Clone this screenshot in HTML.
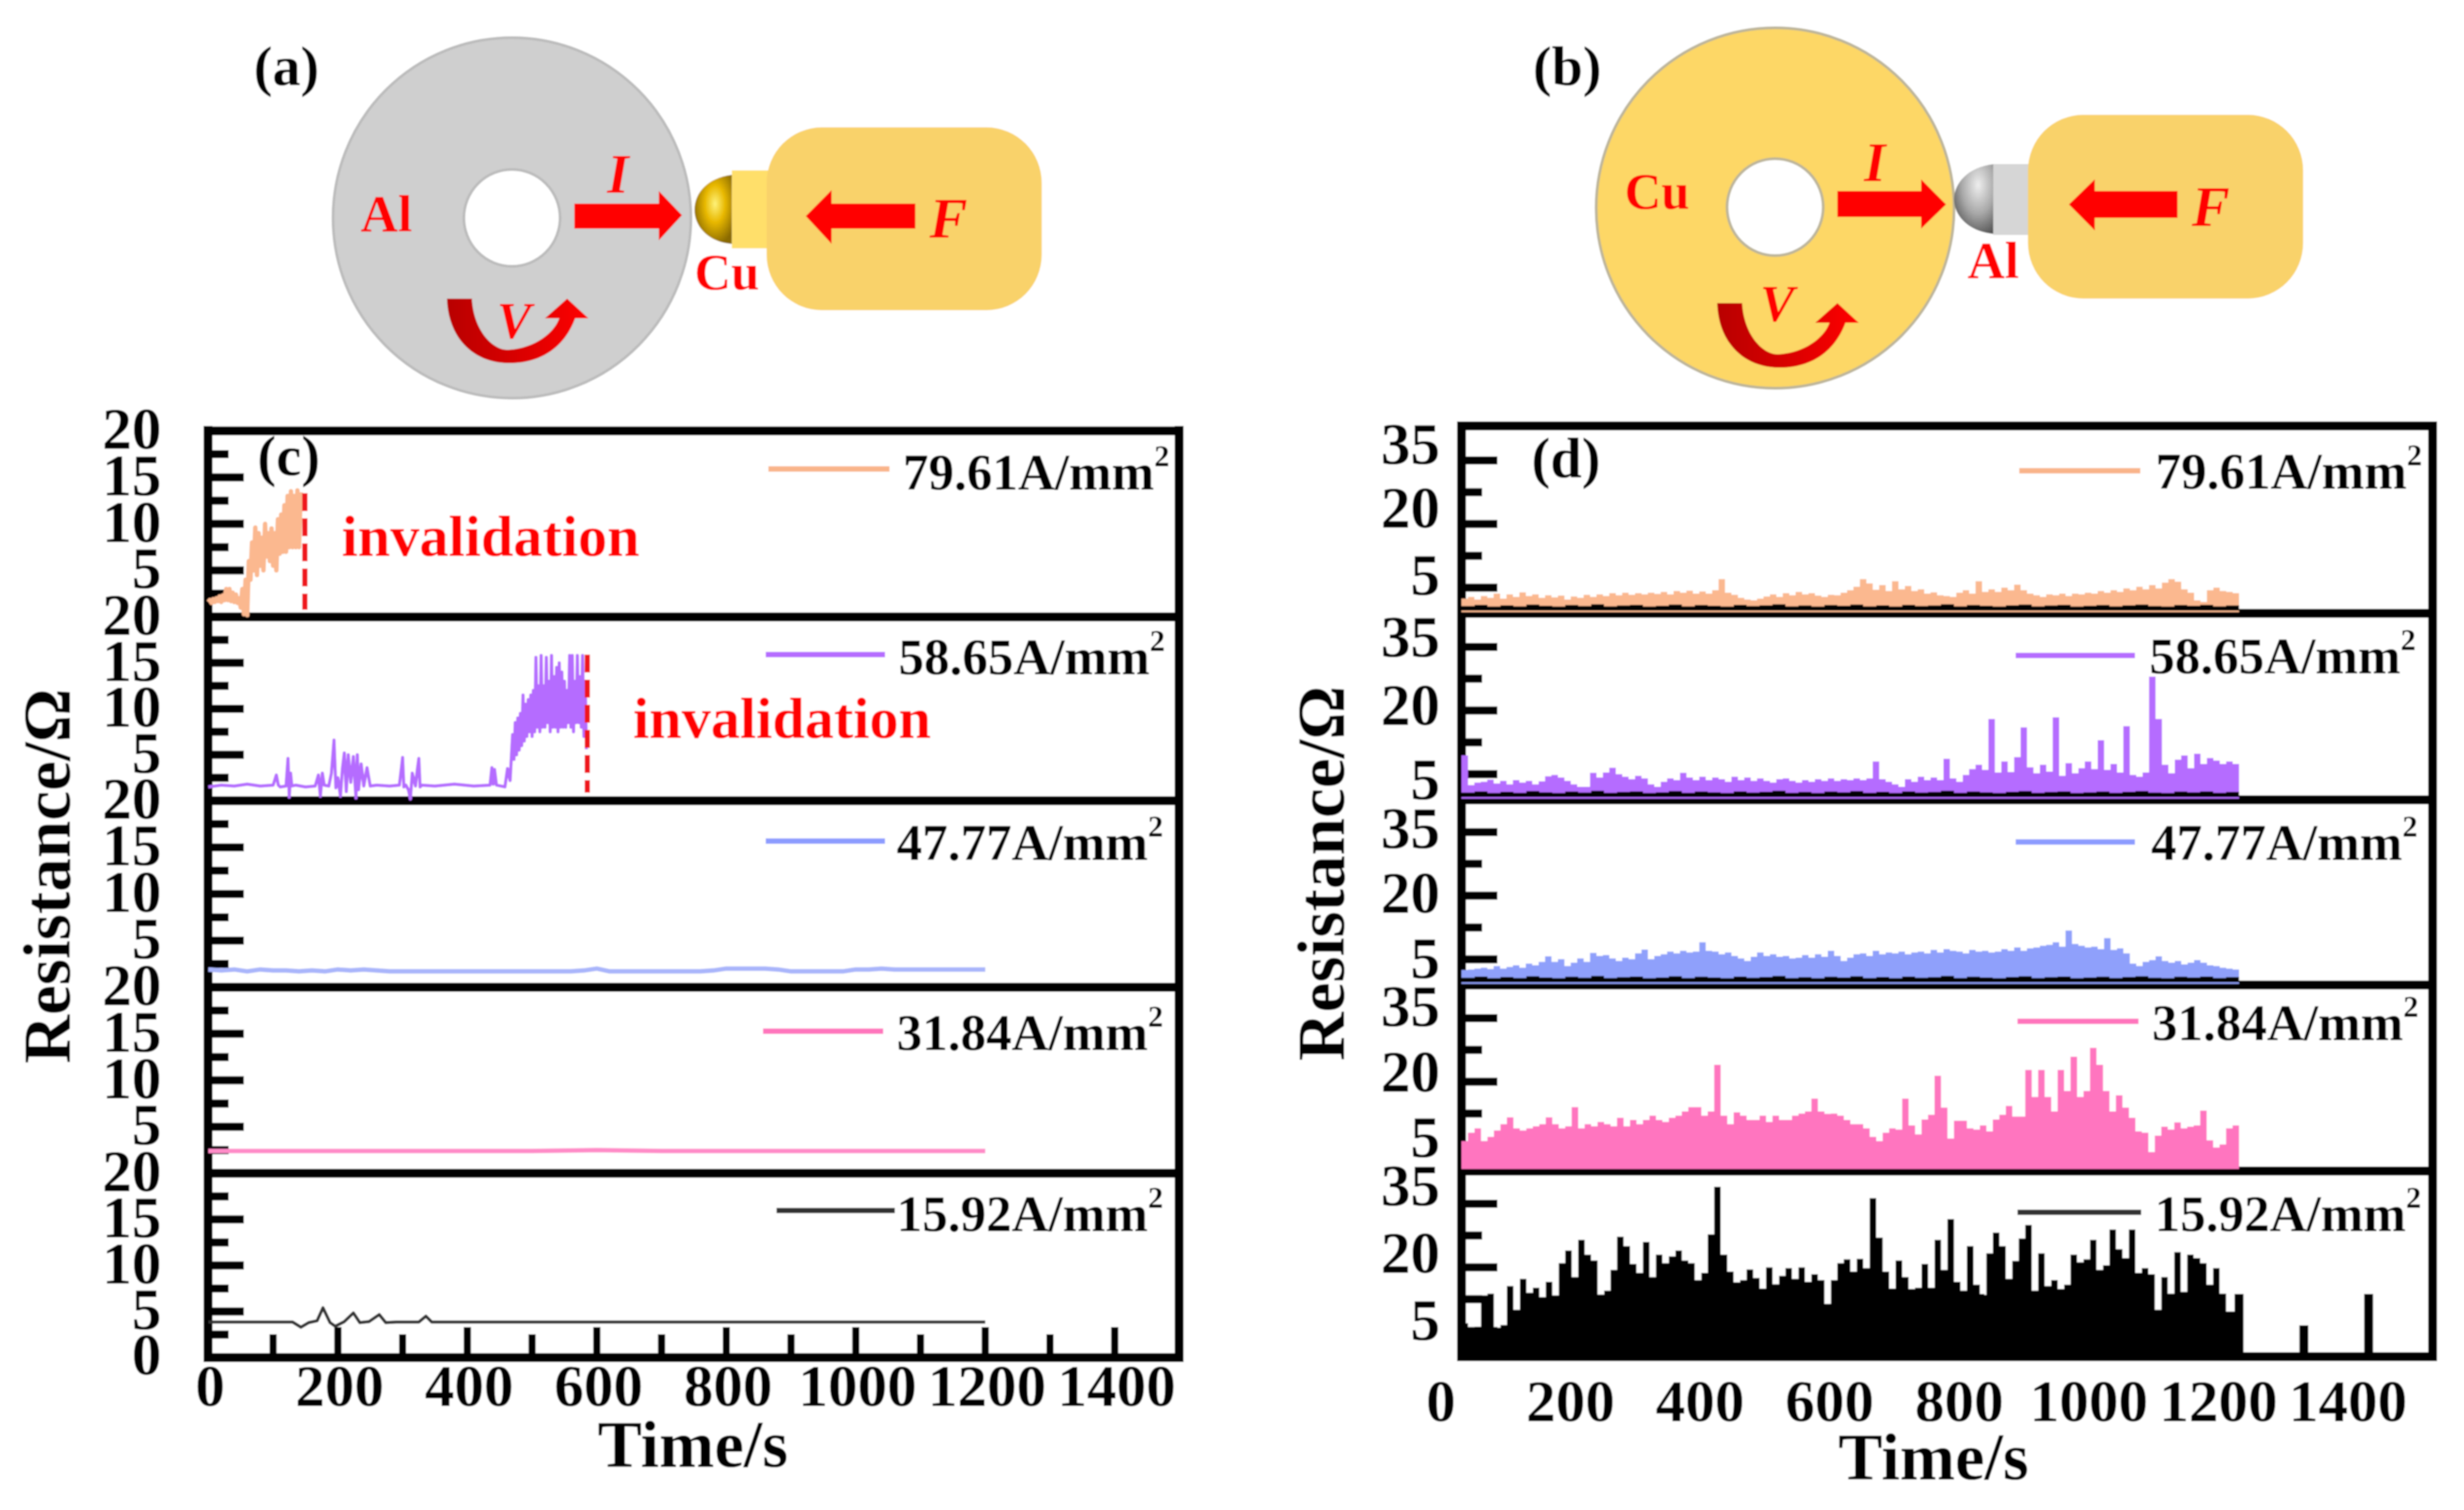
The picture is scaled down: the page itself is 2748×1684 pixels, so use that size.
<!DOCTYPE html>
<html lang="en">
<head>
<meta charset="utf-8">
<title>Resistance versus time for Al/Cu and Cu/Al pairs</title>
<style>
html,body{margin:0;padding:0;background:#fff}
svg{display:block}
text{font-family:"Liberation Serif","DejaVu Serif",serif;font-weight:bold}
</style>
</head>
<body>
<svg id="fig" xmlns="http://www.w3.org/2000/svg" width="2748" height="1684" viewBox="0 0 2748 1684">
<defs>
<filter id="soft" x="0" y="0" width="100%" height="100%"><feGaussianBlur stdDeviation="0.9"/></filter>
<radialGradient id="gold" cx="0.55" cy="0.42" r="0.6"><stop offset="0" stop-color="#fff27a"/><stop offset="0.45" stop-color="#e8b800"/><stop offset="1" stop-color="#8a6a00"/></radialGradient>
<radialGradient id="silver" cx="0.6" cy="0.3" r="0.75"><stop offset="0" stop-color="#eeeeee"/><stop offset="0.55" stop-color="#a8a8a8"/><stop offset="1" stop-color="#555555"/></radialGradient>
<linearGradient id="curl" x1="0" y1="0" x2="1" y2="0"><stop offset="0" stop-color="#b80000"/><stop offset="0.6" stop-color="#e00000"/><stop offset="1" stop-color="#ff0000"/></linearGradient>
</defs>
<g id="root" filter="url(#soft)">
<rect width="2748" height="1684" fill="#ffffff"/>

<g transform="scale(0.993,1)">
<circle cx="575" cy="243" r="201" fill="#cfcfcf" stroke="#bcbcbc" stroke-width="3"/>
<circle cx="575" cy="243" r="54" fill="#ffffff" stroke="#bcbcbc" stroke-width="3"/>
<path d="M822,195 C795,198 780,215 780,234 C780,252 795,270 822,272 Z" fill="url(#gold)"/>
<rect x="822" y="190" width="42" height="87" fill="#ffdf6b"/>
<rect x="861" y="142" width="309" height="204" rx="62" ry="62" fill="#f9d26a"/>
<path d="M645,227 H740 V213 L766,240 L740,268 V255 H645 Z" fill="#ff0000"/>
<path d="M1028,227 H934 V212 L905,241 L934,272 V255 H1028 Z" fill="#ff0000"/>
<path d="M502,333 L530,333 C532,370 555,392 572,390 C600,388 622,372 628,355 L612,355 L637,333 L661,355 L646,355 C635,385 610,405 572,405 C530,405 503,375 502,333 Z" fill="url(#curl)"/>
<text x="285" y="95" font-size="63">(a)</text>
<text x="405" y="258" font-size="58" fill="#ff0000">Al</text>
<text x="780" y="323" font-size="57" fill="#ff0000">Cu</text>
<text x="682" y="215" font-size="62" font-style="italic" fill="#ff0000">I</text>
<text x="1044" y="265" font-size="64" font-style="italic" fill="#ff0000">F</text>
<text x="558" y="377" font-size="58" font-style="italic" fill="#ff0000">V</text>
</g>

<g transform="translate(9.6,0) scale(0.993,1)">
<circle cx="1984" cy="232" r="201" fill="#fdd766" stroke="#bdb59a" stroke-width="3"/>
<circle cx="1984" cy="231" r="54" fill="#ffffff" stroke="#bdb59a" stroke-width="3"/>
<path d="M2230,183 C2200,186 2185,205 2185,222 C2185,240 2200,258 2230,261 Z" fill="url(#silver)"/>
<rect x="2229" y="183" width="42" height="79" fill="#d6d6d6"/>
<rect x="2268" y="128" width="309" height="205" rx="62" ry="62" fill="#f9d26a"/>
<path d="M2054,213 H2148 V200 L2176,228 L2148,255 V242 H2054 Z" fill="#ff0000"/>
<path d="M2436,213 H2343 V200 L2314,228 L2343,257 V243 H2436 Z" fill="#ff0000"/>
<path transform="translate(1417,5)" d="M502,333 L530,333 C532,370 555,392 572,390 C600,388 622,372 628,355 L612,355 L637,333 L661,355 L646,355 C635,385 610,405 572,405 C530,405 503,375 502,333 Z" fill="url(#curl)"/>
<text x="1712" y="95" font-size="63">(b)</text>
<text x="1815" y="233" font-size="57" fill="#ff0000">Cu</text>
<text x="2200" y="310" font-size="58" fill="#ff0000">Al</text>
<text x="2084" y="202" font-size="62" font-style="italic" fill="#ff0000">I</text>
<text x="2452" y="252" font-size="64" font-style="italic" fill="#ff0000">F</text>
<text x="1967" y="358" font-size="58" font-style="italic" fill="#ff0000">V</text>
</g>

<g id="chartC"></g>
<g id="chartD"></g>
</g>
</svg>
<script>
// ---- shared labels ----
const currentLabels = ["79.61A/mm","58.65A/mm","47.77A/mm","31.84A/mm","15.92A/mm"];
const timeTicks = [100,200,300,400,500,600,700,800,900,1000,1100,1200,1300,1400];
const timeTickLabels = [0,200,400,600,800,1000,1200,1400];
const seriesColors = ["#fbb88f","#b56cff","#8fa0fb","#ff75bf","#000000"];
const legendColors = ["#f9b48a","#b56cff","#8c9cff","#ff75bd","#333333"];

// ---- chart (c) data ----
const cTicksMajor = [5,10,15];
const cTicksMinor = [2.5,7.5,12.5,17.5];
const cTickLabels = [5,10,15,20];
const c80Times = [0,2.5,5,7.5,10,12.5,15,17.5,20,22.5,25,27.5,30,32.5,35,37.5,40,42.5,45,47.5,50,52.5,55,57.5,60,62.5,65,67.5,70,72.5,75,77.5,80,82.5,85,87.5,90,92.5,95,97.5,100,102.5,105,107.5,110,112.5,115,117.5,120,122.5,125,127.5,130,132.5,135,137.5,140,142.5];
const c80Values = [1.6,1.8,1.5,1.9,1.6,2.0,1.7,2.2,1.6,2.3,1.8,3.0,1.8,3.0,1.7,2.6,1.6,2.4,1.5,2.0,1.0,3.0,0.3,4.0,0.2,6.0,4.0,8.0,5.0,9.6,4.5,9.0,5.5,8.5,5.0,10.0,6.5,9.0,6.0,9.5,5.5,9.0,5.0,10.5,6.8,11.0,7.0,12.0,7.0,13.0,7.5,13.5,7.5,13.0,7.5,13.6,7.5,13.4];
const c58Times = [0,20,40,60,80,100,105,108,111,120,123,125,127,129,135,150,165,170,173,176,179,186,190,194,197,200,204,207,210,213,216,220,224,228,230,232,236,240,245,250,260,280,295,298,300,302,305,309,312,315,320,323,325,327,330,350,380,410,435,438,440,442,445,458,462,466,470,472,474,476,478,480,482,484,486,488,490,492,494,496,498,500,502,504,506,508,510,512,514,516,518,520,522,524,526,528,530,532,534,536,538,540,542,544,546,548,550,552,554,556,558,560,562,564,566,568,570,572,574,576,578,580,582,584];
const c58Values = [1.5,1.7,1.6,1.8,1.6,1.7,2.8,1.7,1.5,1.6,4.6,0.4,3.0,1.6,1.7,1.5,1.6,2.8,0.5,3.0,1.7,1.6,3.0,6.6,1.4,2.5,0.5,3.5,5.2,1.0,5.0,2.0,4.8,0.3,5.0,1.2,4.0,1.6,3.6,1.6,1.7,1.6,1.7,3.5,4.7,1.5,1.7,1.2,0.2,3.0,1.6,3.5,4.6,1.5,1.7,1.6,1.8,1.6,1.7,3.6,1.8,3.4,1.7,1.5,3.5,2.2,7.2,4.5,8.5,5.0,9.0,5.5,9.5,6.0,11.5,6.5,10.5,7.0,11.0,7.5,11.5,7.0,12.0,7.5,15.6,8.0,12.5,7.5,15.8,8.0,12.5,8.0,15.6,8.5,13.0,7.5,15.8,8.0,13.5,8.0,14.5,7.5,15.0,8.0,14.0,8.0,13.0,8.0,12.0,8.5,15.8,8.0,15.8,7.5,13.0,8.5,15.8,8.5,13.5,8.0,15.8,7.0,13.0,5.6];
const c47Values = [1.9,1.8,1.9,1.7,1.9,1.8,1.8,1.7,1.8,1.7,1.9,1.8,1.9,1.8,1.7,1.7,1.7,1.7,1.7,1.7,1.7,1.7,1.7,1.7,1.7,1.7,1.7,1.7,1.7,1.8,2.0,1.7,1.7,1.7,1.7,1.7,1.7,1.7,1.7,1.8,2.0,2.0,2.0,2.0,1.9,1.7,1.7,1.7,1.7,1.7,1.9,1.9,2.0,1.9,1.9,1.9,1.9,1.9,1.9,1.9,1.9];
const c31Values = [2.4,2.4,2.4,2.4,2.4,2.4,2.5,2.4,2.4,2.4,2.4,2.4,2.4];
const c15Times = [0,130,143,155,168,177,188,196,210,224,234,248,264,274,290,325,336,345,360,1200];
const c15Values = [3.85,3.85,3.3,3.8,4.0,5.4,3.8,3.4,3.9,4.85,3.8,3.9,4.66,3.8,3.85,3.85,4.5,3.85,3.85,3.85];

// ---- chart (d) data ----
const dTicksMajor = [5,20,35];
const dTicksMinor = [12.5,27.5];
const dTickLabels = [5,20,35];
const d80Values = [2.4,2.8,2.2,3.0,2.6,3.6,2.4,3.4,2.8,3.9,3.0,3.4,2.6,3.2,2.7,3.1,2.2,2.9,2.6,3.3,2.8,3.4,3.0,3.7,3.2,3.8,3.3,3.7,3.4,3.8,3.5,4.0,3.4,4.2,3.8,4.3,3.6,4.1,3.6,4.4,7.0,3.8,3.3,2.6,2.2,2.0,2.4,2.9,3.4,2.8,3.7,3.2,4.0,3.4,3.7,3.1,2.8,3.3,3.2,3.8,4.4,5.2,7.0,6.0,4.5,5.6,4.2,6.5,4.6,5.4,4.2,4.6,3.6,3.9,3.2,3.0,2.8,3.8,4.4,3.6,6.5,4.0,4.6,4.0,5.0,4.4,5.7,4.4,3.6,3.2,2.8,3.4,3.2,3.6,3.0,3.6,3.4,3.8,3.6,4.2,3.8,4.4,4.0,4.8,4.4,5.2,4.6,5.6,4.8,6.2,7.0,6.4,4.6,3.8,2.0,1.6,4.4,5.0,4.2,4.0,3.7,3.5];
const d58Values = [9.4,2.4,3.0,3.2,3.7,2.8,3.4,2.6,3.6,3.0,3.4,2.6,3.3,4.5,4.8,4.2,3.4,2.6,2.0,2.0,5.3,4.2,5.4,6.5,5.0,4.4,3.8,4.6,4.0,2.6,2.0,3.2,4.0,3.6,5.3,4.2,3.6,4.4,3.6,4.2,3.8,3.2,4.4,3.6,4.2,3.4,4.0,3.4,3.0,3.8,4.0,3.4,3.0,3.6,3.2,3.8,3.4,4.0,3.4,3.8,3.6,4.0,3.6,4.0,8.0,3.8,3.2,2.6,2.0,3.8,3.2,4.4,3.6,4.2,3.6,8.6,4.0,3.2,4.8,6.2,7.2,6.0,18.0,5.4,8.0,5.5,9.0,16.0,6.6,5.2,7.2,5.6,18.4,4.6,7.6,5.2,6.4,8.0,6.2,13.0,6.0,7.4,5.4,16.3,4.8,4.4,5.4,28.0,18.0,7.2,5.2,8.4,9.4,6.4,9.8,7.4,8.8,8.2,7.4,8.0,7.4,7.3];
const d47Values = [2.5,2.6,2.8,3.0,2.7,3.4,2.8,3.2,3.6,3.0,4.0,3.6,4.4,5.7,4.4,5.0,3.4,4.2,5.2,4.4,6.5,5.8,6.0,5.2,4.6,5.4,5.0,6.4,7.3,5.0,5.8,6.2,6.8,6.4,7.0,6.6,6.8,9.0,7.0,6.8,6.2,6.6,5.8,5.2,4.6,5.6,6.6,5.8,6.2,5.6,5.8,5.2,5.4,6.0,5.4,6.2,5.6,7.0,5.8,4.6,5.4,6.2,6.4,5.8,7.0,6.2,6.6,6.4,6.8,6.2,6.6,6.8,6.4,7.2,6.6,7.4,7.0,6.8,6.4,7.2,6.8,7.0,6.6,6.8,7.4,7.0,7.8,7.0,7.6,7.8,8.2,8.4,9.0,8.0,11.8,8.6,8.2,7.8,8.0,7.4,10.0,7.2,7.6,6.4,4.0,3.4,4.4,4.8,5.7,4.6,4.2,4.6,3.8,4.2,4.8,4.2,3.6,3.4,3.0,2.8,2.6,2.5];
const d31Values = [6,8,9,6,7,8.5,10,11.6,9,8.5,9,9.5,10,11.6,10,9,9.5,14,9,10,9.5,10.5,10,9.5,11.5,9.5,11,10,11,12,11,10.5,11.5,12,13,14,14,12,13,24,12,10,12.8,12,11,11,12,10.5,12,11,11,12,12.5,13,16,13,12.4,12.5,12,11,10,10,9,7,6,8,9,8.7,16,9.7,7.6,11.1,12.2,21.4,13.9,6.6,10.8,10.8,9,8.7,9.7,8.3,11.1,12.2,14.3,11.8,11.8,22.8,16.4,22.8,16.4,13,22.8,17.8,25.9,16.4,17.8,28,24,17.8,13,16.8,13.9,11.5,8.3,8,3.4,7.3,9.4,8.7,10.4,9,9.4,9.7,13.2,6.2,4.5,5.2,9,9.7,9.7];
const d15Values = [6.8,5.8,6,13.4,13.8,5.8,6.4,15.6,10,17.3,14,15.2,13,16.6,13.4,21,24,17.7,26.5,23,21.6,13.6,14.5,19.4,27.2,25,20.8,18.7,26,17.7,23,21,22.6,24,21.6,21,17,18.7,27.8,39,23,19,16.5,17,19.5,17.5,15,20,16,18,19.8,17.3,20,16.6,18.4,17,11.4,17,21,21.9,19,22,19.8,36.3,27,19,15,21.6,17.7,14.9,15.2,20.8,15.2,26.5,19.4,31.4,16.6,14.5,25,15.9,13.5,23.3,28.2,25,17.3,21.5,26.8,30,14.5,23.3,15.6,17,14.9,15.9,23,21.2,21.9,26.5,19.4,20.5,28.9,24.3,22.2,28.9,18.7,19.8,18.4,10,17.7,13.8,23.6,14.2,23,22.2,21,15.9,19.8,13.8,9.6,9.6,13.8];
const dLowNoise = [1.1,1.6,0.9,1.4,1.0,1.7,1.2,0.9,1.5,1.1,1.8,1.0,1.3,1.6,0.9,1.2,1.7,1.0,1.5,1.2,0.9,1.6,1.1,1.4,1.8,1.0,1.3,0.9,1.5,1.2,1.7,1.0,1.4,0.9,1.6,1.1,1.3,1.8,1.0,1.5,1.2,0.9,1.4,1.7,1.0,1.3,1.6,0.9,1.2,1.5,1.0,1.4,1.7,1.1,0.9,1.5,1.2,1.6,1.0,1.3,1.1];

const SVGNS = "http://www.w3.org/2000/svg";
function make(tag, parent, attrs){
  const n = document.createElementNS(SVGNS, tag);
  for (const k in attrs) n.setAttribute(k, attrs[k]);
  parent.appendChild(n);
  return n;
}

// ---- axis functions ----
const xC = t => 232.4 + 0.722 * t;
const xD = t => 1630 + 0.7226 * t;
const panelsC = [{top:480.5,bottom:688},{top:688,bottom:893},{top:893,bottom:1101},{top:1101,bottom:1308.5},{top:1308.5,bottom:1514}];
const panelsD = [
 {top:475,bottom:684,lab:[-14,-18,-18],noise:0.6,base:-0.8},
 {top:684,bottom:892,lab:[6,-6,-11],noise:0.6,base:-0.8},
 {top:892,bottom:1098.5,lab:[-1,-3,-4],noise:0.6,base:-0.8},
 {top:1098.5,bottom:1306,lab:[-9,-11,-13],noise:0,base:-0.6},
 {top:1306,bottom:1513,lab:[-12,-16,-20],noise:0,base:-2}];
const yC = (p, v) => panelsC[p].bottom - v * (panelsC[p].bottom - panelsC[p].top) / 20;
const yD = (p, v) => panelsD[p].bottom - 5 - v * 4.73;

const legendC = [
 {x1:857,x2:992,y:523,tx:1007,by:546},{x1:854,x2:987,y:730,tx:1002,by:752},
 {x1:854,x2:987,y:938,tx:1000,by:959},{x1:851,x2:985,y:1150,tx:1000,by:1171},
 {x1:866,x2:998,y:1350,tx:1000,by:1373}];
const legendD = [
 {x1:2252,x2:2387,y:525,tx:2404,by:545},{x1:2248,x2:2381,y:731,tx:2397,by:751},
 {x1:2248,x2:2381,y:939,tx:2399,by:959},{x1:2250,x2:2385,y:1139,tx:2400,by:1160},
 {x1:2250,x2:2388,y:1352,tx:2403,by:1373}];

function drawLegend(g, spec, i){
  const l = make("line", g, {x1:spec.x1,x2:spec.x2,y1:spec.y,y2:spec.y,stroke:legendColors[i],"stroke-width":6});
  
  
  const t = make("text", g, {x:spec.tx,y:spec.by,"font-size":57,fill:"#000"});
  
  
  t.textContent = currentLabels[i];
  const s = make("tspan", t, {dy:-26,"font-size":34});
  s.textContent = "2";
}
function line(g, x1, y1, x2, y2, w){
  const l = make("line", g, {x1:x1,y1:y1,x2:x2,y2:y2,stroke:"#000","stroke-width":w});
  
  
  return l;
}
function tick(g, x1, y1, x2, y2, w){
  const l = make("line", g, {x1:x1,y1:y1,x2:x2,y2:y2,stroke:"#000","stroke-width":w});
  
  
  return l;
}
function label(g, x, y, str, anchor, size){
  const t = make("text", g, {x:x,y:y,"font-size":size,"text-anchor":anchor,fill:"#000"});
  
  
  t.textContent = str;
  return t;
}
function linePath(g, times, values, xf, yf, color, width, name){
  const d = values.map((v,i)=>(i?"L":"M")+xf(times[i]).toFixed(1)+","+yf(v).toFixed(1)).join(" ");
  const p = make("path", g, {d:d,fill:"none",stroke:color,"stroke-width":width,"stroke-linejoin":"round"});
  
  
  return p;
}
// stepped outline from a baseline, so narrow spikes stay rectangular like the dense trace
function stairPath(vals, step, pi, baseV){
  let d = "M"+xD(0).toFixed(1)+","+yD(pi,baseV).toFixed(1);
  vals.forEach((v,k)=>{
    d += " L"+xD(k*step).toFixed(1)+","+yD(pi,v).toFixed(1);
    if (k < vals.length-1) d += " L"+xD((k+1)*step).toFixed(1)+","+yD(pi,v).toFixed(1);
  });
  d += " L"+xD((vals.length-1)*step).toFixed(1)+","+yD(pi,baseV).toFixed(1)+" Z";
  return d;
}

// ---- build chart (c) ----
(function(){
  const g = document.getElementById("chartC");
  const c47Times = c47Values.map((_,i)=>i*20);
  const c31Times = c31Values.map((_,i)=>i*100);
  const timesAll = [c80Times,c58Times,c47Times,c31Times,c15Times];
  const valuesAll = [c80Values,c58Values,c47Values,c31Values,c15Values];
  const widths = [5,3.5,5,5,3.5];
  const lineColors = ["#fbb88f","#b56cff","#a9b5fb","#ff8cc8","#333333"];
  panelsC.forEach((p,i)=>{
    cTicksMajor.forEach(v=>tick(g,232,yC(i,v),272,yC(i,v),9));
    cTicksMinor.forEach(v=>tick(g,232,yC(i,v),255,yC(i,v),9));
    cTickLabels.forEach(v=>label(g,180,yC(i,v)+20,String(v),"end",66));
  });
  label(g,180,1533,"0","end",66);
  timeTicks.forEach(t=>tick(g,xC(t),1514,xC(t),t%200===0?1480:1488,8));
  timeTickLabels.forEach(t=>label(g,xC(t)+2,1568,String(t),"middle",66));
  panelsC.forEach((p,i)=>line(g,227,p.top,1320,p.top,10));
  line(g,227,1514,1320,1514,10);
  line(g,232,475,232,1519,10);
  line(g,1315,475,1315,1519,10);
  panelsC.forEach((p,i)=>{
    linePath(g,timesAll[i],valuesAll[i],xC,v=>yC(i,v),lineColors[i],widths[i],"series-c-"+i);
    drawLegend(g,legendC[i],i);
  });
  const dash1 = make("line", g, {x1:340,y1:550,x2:340,y2:680,stroke:"#ef141c","stroke-width":6,"stroke-dasharray":"20 8"});
  
  
  const dash2 = make("line", g, {x1:655,y1:730,x2:655,y2:884,stroke:"#ef141c","stroke-width":6,"stroke-dasharray":"20 8"});
  
  
  const inv1 = make("text", g, {x:381,y:620,"font-size":65,fill:"#ff0000"});
  
  
  inv1.textContent = "invalidation";
  const inv2 = make("text", g, {x:706,y:823,"font-size":65,fill:"#ff0000"});
  
  
  inv2.textContent = "invalidation";
  const pl = make("text", g, {x:287,y:530,"font-size":63,fill:"#000"});
  
  
  pl.textContent = "(c)";
  const xt = make("text", g, {x:772.7,y:1636,"font-size":74,"text-anchor":"middle",fill:"#000"});
  
  
  xt.textContent = "Time/s";
  const yt = make("text", g, {transform:"translate(78,977) rotate(-90)","font-size":75,"text-anchor":"middle",fill:"#000"});
  
  
  yt.textContent = "Resistance/Ω";
})();

// ---- build chart (d) ----
(function(){
  const g = document.getElementById("chartD");
  const valuesAll = [d80Values,d58Values,d47Values,d31Values,d15Values];
  timeTicks.forEach(t=>tick(g,xD(t),1513,xD(t),t%200===0?1443:1478,10));
  timeTickLabels.forEach(t=>label(g,xD(t)-23,1585,String(t),"middle",66));
  panelsD.forEach((p,i)=>{
    dTicksMajor.forEach(v=>tick(g,1630,yD(i,v),1670,yD(i,v),9));
    dTicksMinor.forEach(v=>tick(g,1630,yD(i,v),1653,yD(i,v),9));
    dTickLabels.forEach((v,k)=>label(g,1606,yD(i,v)+p.lab[k]+22,String(v),"end",66));
  });
  panelsD.forEach((p,i)=>line(g,1625,p.top,2718,p.top,10));
  line(g,1625,1513,2718,1513,10);
  line(g,1630,470,1630,1518,10);
  line(g,2713,470,2713,1518,10);
  panelsD.forEach((p,i)=>{
    const vals = valuesAll[i];
    const step = 1200/(vals.length-1);
    const area = make("path", g, {d:stairPath(vals,step,i,p.base),fill:seriesColors[i]});
    
    
    if (p.noise > 0) {
      const scaled = dLowNoise.map(v=>v*p.noise);
      const band = make("path", g, {d:stairPath(scaled,20,i,-0.4),fill:"#000"});
      
      
    }
  });
  panelsD.forEach((p,i)=>drawLegend(g,legendD[i],i));
  const pl = make("text", g, {x:1708,y:532,"font-size":63,fill:"#000"});
  
  
  pl.textContent = "(d)";
  const xt = make("text", g, {x:2156.4,y:1650,"font-size":74,"text-anchor":"middle",fill:"#000"});
  
  
  xt.textContent = "Time/s";
  const yt = make("text", g, {transform:"translate(1499,974) rotate(-90)","font-size":75,"text-anchor":"middle",fill:"#000"});
  
  
  yt.textContent = "Resistance/Ω";
})();
</script>
</body>
</html>
